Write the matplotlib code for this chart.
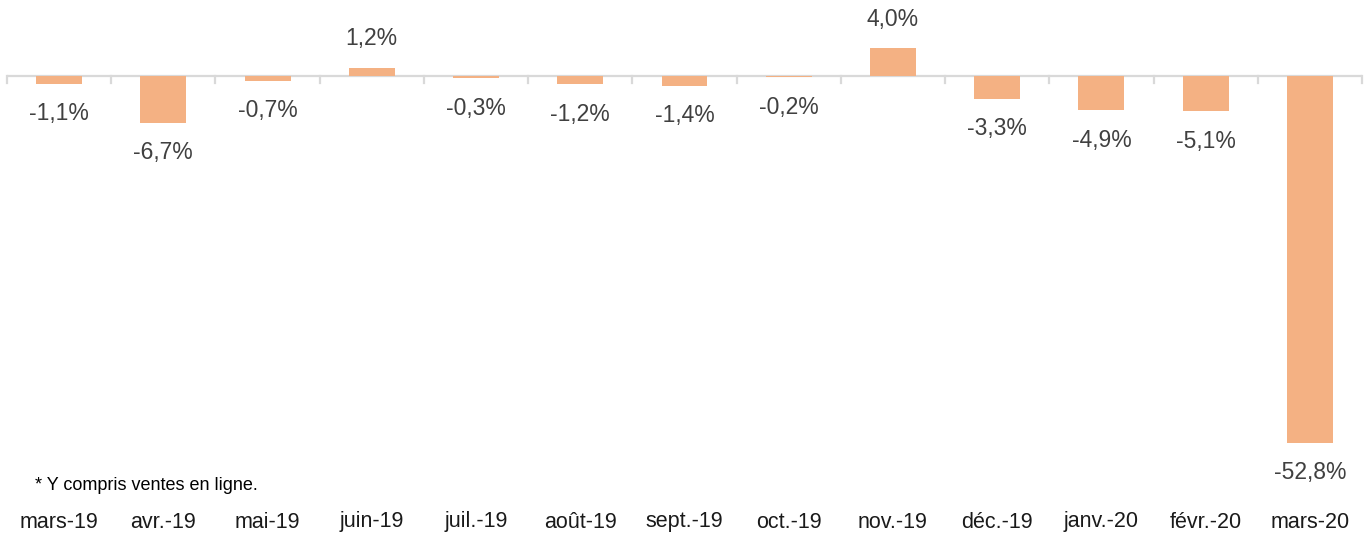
import matplotlib
matplotlib.use("Agg")
import matplotlib.pyplot as plt
import numpy as np

plt.rcParams['font.family'] = ['Liberation Sans', 'DejaVu Sans']

categories = ["mars-19", "avr.-19", "mai-19", "juin-19", "juil.-19", "août-19",
              "sept.-19", "oct.-19", "nov.-19", "déc.-19", "janv.-20", "févr.-20", "mars-20"]
values = [-1.1, -6.7, -0.7, 1.2, -0.3, -1.2, -1.4, -0.2, 4.0, -3.3, -4.9, -5.1, -52.8]
footnote = "* Y compris ventes en ligne."

W, H = 1366, 535
fig = plt.figure(figsize=(W / 100, H / 100), dpi=100)
x0, x1 = 7, 1362
ax = fig.add_axes([x0 / W, 0, (x1 - x0) / W, 1])
ax.set_axis_off()

n = len(categories)
ax.set_xlim(-0.5, n - 0.5)
scale = 6.95  # px per percent
ax.set_ylim(-(H - 76) / scale, 76 / scale)

bar_color = "#F4B183"
x = np.arange(n)
ax.bar(x, values, width=0.44, color=bar_color, zorder=2)

# zero line with boundary ticks
ax.axhline(0, color="#D9D9D9", lw=1.6, zorder=1)
for b in np.arange(n + 1) - 0.5:
    ax.plot([b, b], [0, -7 / scale], color="#D9D9D9", lw=1.6, zorder=1, clip_on=False)

for xi, v in zip(x, values):
    label = f"{v:.1f}%".replace(".", ",")
    off = 29 if v >= 0 else -30
    ax.annotate(label, (xi, v), xytext=(0, off), textcoords="offset pixels",
                ha="center", va="center", fontsize=16.5, color="#404040")

tr = ax.get_xaxis_transform()
for xi, c in zip(x, categories):
    ax.text(xi, (H - 522) / H, c, transform=tr, ha="center", va="center",
            fontsize=15.5, color="#1a1a1a")

fig.text(35 / W, (H - 486) / H, footnote, ha="left", va="center", fontsize=13, color="#000000")

fig.savefig("out.png", dpi=100)
